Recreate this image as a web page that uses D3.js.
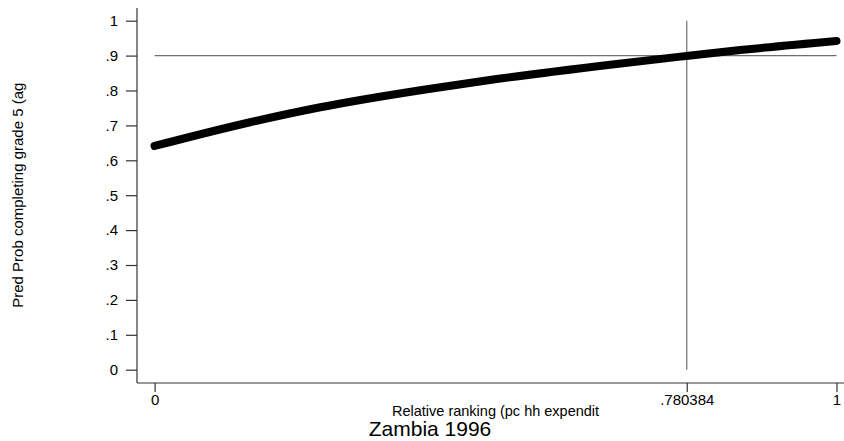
<!DOCTYPE html>
<html>
<head>
<meta charset="utf-8">
<script src="https://cdn.jsdelivr.net/npm/d3@7"></script>
<style>
  html, body { margin: 0; padding: 0; background: #fff; }
  svg { display: block; font-family: "Liberation Sans", Arial, sans-serif; }
</style>
</head>
<body>
<svg id="chart" width="844" height="441"></svg>
<script>
// Relative ranking (x) and predicted probability of completing grade 5 (y)
const rankValues = [0, 0.140, 0.243, 0.397, 0.499, 0.668, 0.780, 0.859, 1.0];
const predProb   = [0.641, 0.709, 0.752, 0.803, 0.832, 0.874, 0.899, 0.916, 0.942];

// Reference lines
const refX = 0.780384;
const refY = 0.9;

// Axis ticks and labels
const xTickValues = [0, 0.780384, 1];
const xTickLabels = ["0", ".780384", "1"];
const yTickValues = [0, 0.1, 0.2, 0.3, 0.4, 0.5, 0.6, 0.7, 0.8, 0.9, 1];
const yTickLabels = ["0", ".1", ".2", ".3", ".4", ".5", ".6", ".7", ".8", ".9", "1"];

const xTitle = "Relative ranking (pc hh expendit";
const yTitle = "Pred Prob completing grade 5 (ag";
const chartTitle = "Zambia 1996";

const svg = d3.select("#chart");

// Plot region edges (axis lines sit on these)
const region = { left: 137, right: 854, top: 8, bottom: 383 };

const x = d3.scaleLinear().domain([0, 1]).range([154.6, 836.5]);
const y = d3.scaleLinear().domain([0, 1]).range([369.7, 20.7]);

const axisColor = "#333";
const refColor = "#6e6e6e";
const fontSize = 15;

// Reference lines at y = .9 and x = .780384
svg.append("line")
  .attr("x1", x(0)).attr("x2", x(1))
  .attr("y1", y(refY)).attr("y2", y(refY))
  .attr("stroke", refColor).attr("stroke-width", 1.2);

svg.append("line")
  .attr("x1", x(refX)).attr("x2", x(refX))
  .attr("y1", y(0)).attr("y2", y(1))
  .attr("stroke", refColor).attr("stroke-width", 1.2);

// Predicted probability curve
const points = rankValues.map((r, i) => [r, predProb[i]]);
const line = d3.line()
  .x(d => x(d[0]))
  .y(d => y(d[1]))
  .curve(d3.curveMonotoneX);

svg.append("path")
  .datum(points)
  .attr("d", line)
  .attr("fill", "none")
  .attr("stroke", "#000")
  .attr("stroke-width", 8)
  .attr("stroke-linecap", "round")
  .attr("stroke-linejoin", "round");

// Y axis
const yAxis = d3.axisLeft(y)
  .tickValues(yTickValues)
  .tickFormat((d, i) => yTickLabels[i])
  .tickSize(11)
  .tickPadding(8);

const gy = svg.append("g")
  .attr("transform", `translate(${region.left},0)`)
  .call(yAxis);
gy.select(".domain").remove();
gy.append("line")
  .attr("x1", 0).attr("x2", 0)
  .attr("y1", region.top).attr("y2", region.bottom)
  .attr("stroke", axisColor).attr("stroke-width", 1.2);
gy.selectAll(".tick line").attr("stroke", axisColor).attr("stroke-width", 1.2);
gy.selectAll(".tick text")
  .attr("fill", "#000")
  .style("font-size", fontSize + "px")
  .style("font-family", "'Liberation Sans', Arial, sans-serif");

// X axis
const xAxis = d3.axisBottom(x)
  .tickValues(xTickValues)
  .tickFormat((d, i) => xTickLabels[i])
  .tickSize(9)
  .tickPadding(2);

const gx = svg.append("g")
  .attr("transform", `translate(0,${region.bottom})`)
  .call(xAxis);
gx.select(".domain").remove();
gx.append("line")
  .attr("x1", region.left).attr("x2", region.right)
  .attr("y1", 0).attr("y2", 0)
  .attr("stroke", axisColor).attr("stroke-width", 1.2);
gx.selectAll(".tick line").attr("stroke", axisColor).attr("stroke-width", 1.2);
gx.selectAll(".tick text")
  .attr("fill", "#000")
  .style("font-size", fontSize + "px")
  .style("font-family", "'Liberation Sans', Arial, sans-serif");

// Axis titles
svg.append("text")
  .attr("x", (x(0) + x(1)) / 2)
  .attr("y", 416)
  .attr("text-anchor", "middle")
  .style("font-size", "14.5px")
  .text(xTitle);

svg.append("text")
  .attr("transform", `translate(23,${(y(0) + y(1)) / 2}) rotate(-90)`)
  .attr("text-anchor", "middle")
  .style("font-size", fontSize + "px")
  .text(yTitle);

// Chart title below the axis
svg.append("text")
  .attr("x", 430)
  .attr("y", 436)
  .attr("text-anchor", "middle")
  .style("font-size", "21px")
  .text(chartTitle);
</script>
</body>
</html>
